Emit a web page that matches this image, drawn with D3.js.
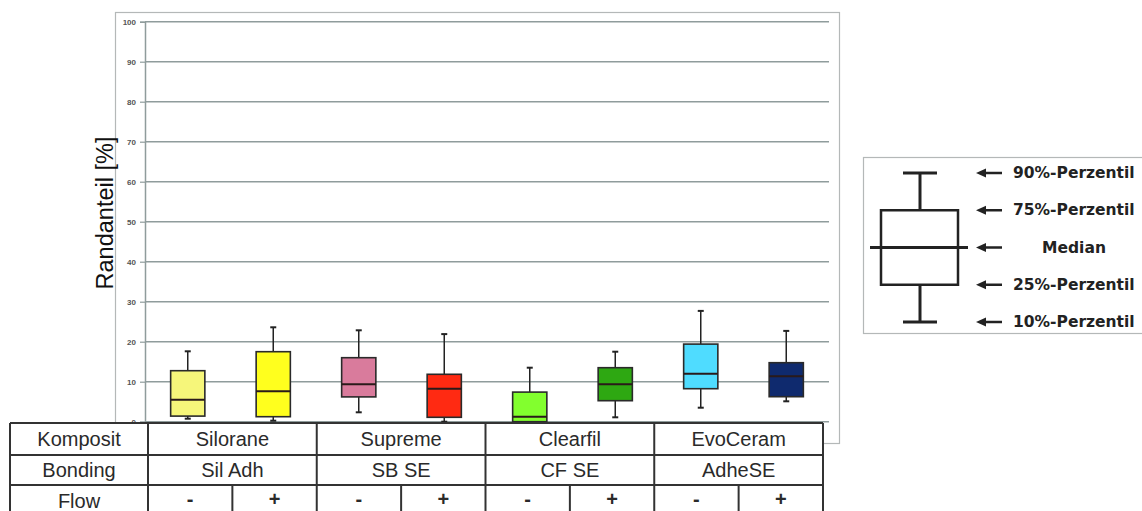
<!DOCTYPE html>
<html>
<head>
<meta charset="utf-8">
<script src="https://cdn.jsdelivr.net/npm/d3@7"></script>
<style>
  html, body { margin: 0; padding: 0; background: #fff; }
  svg { display: block; }
</style>
</head>
<body>
<svg id="chart" width="1142" height="511"></svg>
<script>
// Composite / bonding groups and flow sub-groups
const komposit = ["Silorane", "Supreme", "Clearfil", "EvoCeram"];
const bonding = ["Sil Adh", "SB SE", "CF SE", "AdheSE"];
const flow = ["-", "+"];

// Percentiles of the margin share [%] per group (8 boxes)
const p10    = [0.75, 0.25, 2.35, 0.0, 0.0, 1.1, 3.5, 5.1];
const p25    = [1.4, 1.25, 6.2, 1.1, 0.0, 5.25, 8.25, 6.25];
const median = [5.5, 7.6, 9.35, 8.25, 1.25, 9.35, 12.0, 11.35];
const p75    = [12.75, 17.5, 16.0, 11.85, 7.4, 13.5, 19.4, 14.75];
const p90    = [17.6, 23.6, 22.85, 21.9, 13.5, 17.5, 27.7, 22.7];
const boxColors = ["#f6f67a", "#ffff1e", "#d97b9c", "#ff2a12",
                   "#82ff2e", "#2ea812", "#4fdcff", "#0f2a6e"];

const yTicks = [0, 10, 20, 30, 40, 50, 60, 70, 80, 90, 100];
const legendLabels = ["90%-Perzentil", "75%-Perzentil", "Median", "25%-Perzentil", "10%-Perzentil"];

const svg = d3.select("#chart");
const boxKeys = d3.range(komposit.length * flow.length);
const boxes = boxKeys.map(i => ({
  i, p10: p10[i], p25: p25[i], med: median[i], p75: p75[i], p90: p90[i], color: boxColors[i]
}));

// Outer frame of the plot
svg.append("rect")
  .attr("x", 115.5).attr("y", 12.5).attr("width", 724).attr("height", 431)
  .attr("fill", "#fff").attr("stroke", "#b4b8b8").attr("stroke-width", 1.2);

const y = d3.scaleLinear().domain([0, 100]).range([421.7, 21.7]);
const x = d3.scaleBand().domain(boxKeys).range([145, 829]);

// Horizontal grid lines
svg.append("g").selectAll("line").data(yTicks).join("line")
  .attr("x1", 145).attr("x2", 829)
  .attr("y1", d => y(d)).attr("y2", d => y(d))
  .attr("stroke", "#8f9c9c").attr("stroke-width", 1.5);

// Y axis
const yAxis = svg.append("g").attr("transform", "translate(145,0)")
  .call(d3.axisLeft(y).tickValues(yTicks).tickSize(5).tickPadding(4));
yAxis.select(".domain").attr("stroke", "#8f9c9c").attr("stroke-width", 1.5);
yAxis.selectAll(".tick line").attr("stroke", "#8f9c9c").attr("stroke-width", 1.2);
yAxis.selectAll(".tick text")
  .attr("fill", "#555").attr("font-family", "Liberation Sans, Arial, sans-serif")
  .attr("font-size", 8).attr("font-weight", "bold");

svg.append("text")
  .attr("transform", "translate(113,213) rotate(-90)")
  .attr("text-anchor", "middle")
  .attr("font-family", "Liberation Sans, Arial, sans-serif")
  .attr("font-size", 23.5).attr("fill", "#111")
  .text("Randanteil [%]");

// Box plots
const bw = x.bandwidth() * 0.4;
const capW = 6;
const g = svg.append("g").selectAll("g").data(boxes).join("g")
  .attr("transform", d => `translate(${x(d.i) + x.bandwidth() / 2},0)`);

g.append("line").attr("x1", 0).attr("x2", 0)
  .attr("y1", d => y(d.p90)).attr("y2", d => y(d.p75))
  .attr("stroke", "#222").attr("stroke-width", 1.5);
g.append("line").attr("x1", 0).attr("x2", 0)
  .attr("y1", d => y(d.p25)).attr("y2", d => y(d.p10))
  .attr("stroke", "#222").attr("stroke-width", 1.5);
g.append("line").attr("x1", -capW / 2).attr("x2", capW / 2)
  .attr("y1", d => y(d.p90)).attr("y2", d => y(d.p90))
  .attr("stroke", "#222").attr("stroke-width", 2);
g.append("line").attr("x1", -capW / 2).attr("x2", capW / 2)
  .attr("y1", d => y(d.p10)).attr("y2", d => y(d.p10))
  .attr("stroke", "#222").attr("stroke-width", 2);
g.append("rect")
  .attr("x", -bw / 2).attr("width", bw)
  .attr("y", d => y(d.p75)).attr("height", d => y(d.p25) - y(d.p75))
  .attr("fill", d => d.color).attr("stroke", "#2a2a2a").attr("stroke-width", 1.6);
g.append("line").attr("x1", -bw / 2).attr("x2", bw / 2)
  .attr("y1", d => y(d.med)).attr("y2", d => y(d.med))
  .attr("stroke", "#2a1a1a").attr("stroke-width", 2);

// Table below the plot
const tFont = "Liberation Sans, Arial, sans-serif";
const tableLeft = 10, tableRight = 823, labelRight = 148;
const rowY = [423, 455, 485, 516];
const groupX = d3.scaleBand().domain(d3.range(komposit.length)).range([labelRight, tableRight]);
const subX = d3.scaleBand().domain(boxKeys).range([labelRight, tableRight]);
const table = svg.append("g");
table.append("rect")
  .attr("x", tableLeft).attr("y", rowY[0]).attr("width", tableRight - tableLeft).attr("height", rowY[3] - rowY[0])
  .attr("fill", "#fff");
// Horizontal rules
table.selectAll("line.h").data(rowY).join("line").attr("class", "h")
  .attr("x1", tableLeft).attr("x2", tableRight)
  .attr("y1", d => d).attr("y2", d => d)
  .attr("stroke", "#333").attr("stroke-width", 2);
// Outer vertical rules and label column
[tableLeft, labelRight, tableRight].forEach(v => {
  table.append("line").attr("x1", v).attr("x2", v).attr("y1", rowY[0]).attr("y2", rowY[3])
    .attr("stroke", "#333").attr("stroke-width", 2);
});
// Group separators
table.selectAll("line.grp").data(d3.range(1, komposit.length)).join("line").attr("class", "grp")
  .attr("x1", d => groupX(d)).attr("x2", d => groupX(d))
  .attr("y1", rowY[0]).attr("y2", rowY[3])
  .attr("stroke", "#333").attr("stroke-width", 2);
// Flow separators within each group
table.selectAll("line.sub").data(boxKeys.filter(k => k % 2 === 1)).join("line").attr("class", "sub")
  .attr("x1", d => subX(d)).attr("x2", d => subX(d))
  .attr("y1", rowY[2]).attr("y2", rowY[3])
  .attr("stroke", "#333").attr("stroke-width", 2);

const rowLabels = ["Komposit", "Bonding", "Flow"];
table.selectAll("text.rl").data(rowLabels).join("text").attr("class", "rl")
  .attr("x", (tableLeft + labelRight) / 2)
  .attr("y", (d, i) => (rowY[i] + rowY[i + 1]) / 2)
  .attr("text-anchor", "middle").attr("dominant-baseline", "central")
  .attr("font-family", tFont).attr("font-size", 20).attr("fill", "#2a2a2a")
  .text(d => d);
table.selectAll("text.k").data(komposit).join("text").attr("class", "k")
  .attr("x", (d, i) => groupX(i) + groupX.bandwidth() / 2)
  .attr("y", (rowY[0] + rowY[1]) / 2)
  .attr("text-anchor", "middle").attr("dominant-baseline", "central")
  .attr("font-family", tFont).attr("font-size", 20).attr("fill", "#2a2a2a")
  .text(d => d);
table.selectAll("text.b").data(bonding).join("text").attr("class", "b")
  .attr("x", (d, i) => groupX(i) + groupX.bandwidth() / 2)
  .attr("y", (rowY[1] + rowY[2]) / 2)
  .attr("text-anchor", "middle").attr("dominant-baseline", "central")
  .attr("font-family", tFont).attr("font-size", 20).attr("fill", "#2a2a2a")
  .text(d => d);
table.selectAll("text.f").data(boxKeys).join("text").attr("class", "f")
  .attr("x", d => subX(d) + subX.bandwidth() / 2)
  .attr("y", (rowY[2] + rowY[3]) / 2 - 2)
  .attr("text-anchor", "middle").attr("dominant-baseline", "central")
  .attr("font-family", tFont).attr("font-size", 20).attr("font-weight", "bold").attr("fill", "#2a2a2a")
  .text(d => flow[d % 2]);

// Legend explaining the box plot (schematic, evenly spaced levels)
const lg = svg.append("g");
lg.append("rect").attr("x", 863.5).attr("y", 157.5).attr("width", 300).attr("height", 176)
  .attr("fill", "#fff").attr("stroke", "#b4b8b8").attr("stroke-width", 1.2);
const ly = d3.scalePoint().domain(legendLabels).range([173, 322]);
const [l90, l75, lMed, l25, l10] = legendLabels.map(ly);
const lcx = 920;
function lline(x1, y1, x2, y2, w) {
  return lg.append("line").attr("x1", x1).attr("y1", y1).attr("x2", x2).attr("y2", y2)
    .attr("stroke", "#222").attr("stroke-width", w || 3);
}
lline(lcx, l90, lcx, l75);
lline(lcx, l25, lcx, l10);
lline(lcx - 17, l90, lcx + 17, l90);
lline(lcx - 17, l10, lcx + 17, l10);
lg.append("rect").attr("x", 881).attr("width", 77)
  .attr("y", l75).attr("height", l25 - l75)
  .attr("fill", "none").attr("stroke", "#222").attr("stroke-width", 2.5);
lline(870, lMed, 968, lMed);

legendLabels.forEach(lab => {
  const yy = ly(lab);
  lline(983, yy, 1002, yy, 2.5);
  lg.append("path")
    .attr("d", `M976,${yy} L986,${yy - 4.5} L986,${yy + 4.5} Z`)
    .attr("fill", "#222");
  const isMed = lab === "Median";
  lg.append("text")
    .attr("x", isMed ? 1074 : 1013).attr("y", yy)
    .attr("text-anchor", isMed ? "middle" : "start")
    .attr("dominant-baseline", "central")
    .attr("font-family", "DejaVu Sans, sans-serif").attr("font-weight", "bold")
    .attr("font-size", 15.5).attr("fill", "#222")
    .text(lab);
});
</script>
</body>
</html>
